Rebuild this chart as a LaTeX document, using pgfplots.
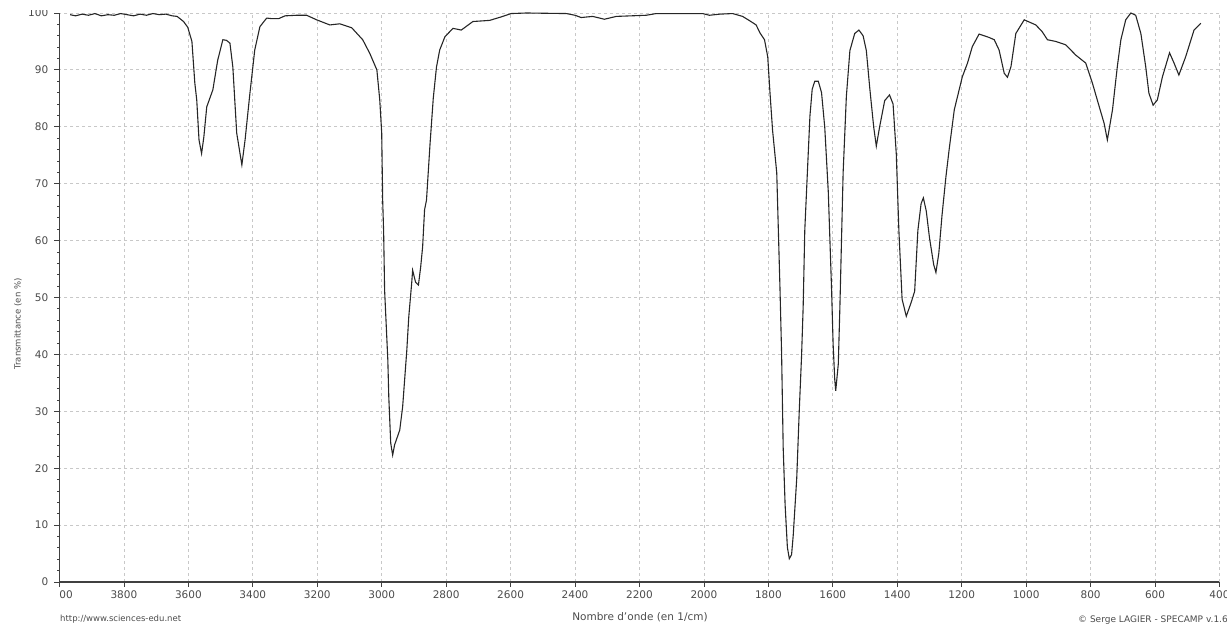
\documentclass[border=0pt]{standalone}
\usepackage{fontspec}
\setmainfont{DejaVu Sans}
\usepackage{pgfplots}
\pgfplotsset{compat=1.18}
\definecolor{gridc}{RGB}{200,200,200}
\definecolor{txt}{RGB}{75,75,75}
\begin{document}
\begin{tikzpicture}[x=1pt,y=1pt]
\useasboundingbox (-59.5,-46) rectangle (1167.5,582);
\clip (-59.5,-46) rectangle (1167.5,582);
\begin{axis}[
  at={(0,0)}, anchor=south west,
  scale only axis, width=1160pt, height=569pt,
  x dir=reverse, xmin=400, xmax=4000, ymin=0, ymax=100,
  xtick={400,600,...,4000}, ytick={0,10,...,100},
  minor y tick num=4,
  axis lines*=left,
  axis line style={black!75, line width=1.1pt},
  tick align=outside, major tick length=5pt, minor tick length=2pt,
  tick style={black!75, line width=0.8pt},
  grid=major,
  major grid style={gridc, line width=0.8pt, dash pattern=on 3pt off 3pt},
  /pgf/number format/assume math mode=true,
  /pgf/number format/set thousands separator={},
  ticklabel style={font=\fontsize{10.5}{12}\selectfont, text=txt, inner sep=0pt},
  xticklabel style={yshift=-4pt},
  yticklabel style={xshift=-6pt},
  clip=false,
]
\addplot[black!85, line width=1.1pt] table {
3967 99.7
3950 99.5
3930 99.8
3910 99.6
3890 99.9
3870 99.5
3850 99.7
3830 99.6
3810 99.9
3790 99.7
3770 99.5
3750 99.8
3730 99.6
3710 99.9
3690 99.7
3670 99.8
3650 99.5
3635 99.4
3626 99.0
3615 98.5
3602 97.5
3589 95.0
3580 87.7
3574 84.7
3567 77.7
3559 75.3
3552 78.2
3543 83.5
3524 86.5
3509 91.7
3493 95.3
3482 95.2
3471 94.7
3462 90.5
3450 78.9
3440 75.4
3434 73.3
3424 77.7
3409 85.9
3394 93.5
3378 97.6
3357 99.1
3340 99.0
3320 99.0
3300 99.5
3264 99.6
3233 99.6
3202 98.8
3161 97.9
3130 98.1
3093 97.4
3059 95.3
3037 92.9
3015 90.0
3006 84.7
3000 78.9
2997 67.1
2994 61.5
2991 51.3
2981 39.0
2978 32.5
2972 24.4
2966 22.3
2960 24.1
2944 26.7
2935 30.8
2922 40.8
2916 46.6
2907 52.5
2904 54.8
2895 52.7
2886 52.2
2879 55.4
2873 58.9
2867 65.4
2861 67.1
2850 77.0
2840 85.0
2830 90.5
2820 93.5
2804 95.8
2779 97.3
2753 97.0
2717 98.5
2665 98.7
2630 99.3
2598 99.9
2551 100.0
2427 99.9
2400 99.6
2381 99.2
2345 99.4
2309 98.9
2272 99.4
2179 99.6
2148 99.9
2076 99.9
2004 99.9
1983 99.6
1950 99.8
1911 99.9
1880 99.4
1857 98.6
1838 97.9
1826 96.5
1812 95.3
1802 92.3
1795 86.0
1787 79.4
1774 71.9
1764 51.7
1759 40.3
1754 23.6
1748 13.5
1741 6.1
1735 4.1
1728 4.8
1723 8.1
1712 18.2
1704 30.3
1697 39.7
1692 48.4
1687 61.8
1679 71.9
1671 81.9
1664 86.6
1656 88.0
1645 88.0
1635 86.0
1625 79.9
1614 68.5
1604 51.7
1599 41.7
1594 35.6
1591 33.6
1583 38.3
1578 48.4
1568 71.9
1558 85.3
1547 93.4
1532 96.4
1519 97.0
1506 96.0
1496 93.4
1485 86.6
1473 79.9
1465 76.6
1455 79.9
1439 84.6
1424 85.6
1413 84.0
1403 75.2
1395 61.8
1385 49.7
1372 46.7
1357 49.1
1346 51.1
1336 61.8
1326 66.5
1319 67.5
1310 65.2
1300 60.5
1287 55.8
1280 54.4
1271 57.8
1261 64.5
1249 71.2
1239 76.0
1223 83.0
1198 88.8
1182 91.2
1167 94.1
1146 96.3
1115 95.7
1099 95.3
1084 93.5
1068 89.4
1058 88.7
1047 90.6
1032 96.4
1006 98.8
970 97.9
950 96.7
934 95.3
908 95.0
877 94.4
846 92.6
815 91.2
794 87.6
773 83.5
758 80.6
748 77.7
732 83.0
717 90.6
706 95.3
691 98.8
675 100.0
660 99.6
644 96.4
629 90.6
619 85.9
606 83.8
593 84.7
577 88.8
555 93.0
541 91.2
526 89.1
505 92.3
479 97.0
458 98.2
};
\end{axis}
% the original screenshot hides the left half of the first tick label and the top of "100"
\fill[white] (-40,-5) rectangle (-0.8,-20);
\fill[white] (-40,572) rectangle (-3,582);
\node[text=txt, font=\fontsize{10.5}{12}\selectfont] at (580.5,-35.5) {Nombre d'onde (en 1/cm)};
\node[anchor=west, text=txt, font=\fontsize{8.5}{10}\selectfont, inner sep=0pt] at (0.5,-37) {http://www.sciences-edu.net};
\node[anchor=east, text=txt, font=\fontsize{9}{10}\selectfont, inner sep=0pt] at (1168.5,-38) {© Serge LAGIER - SPECAMP v.1.6};
\node[rotate=90, text=txt, font=\fontsize{8.5}{10}\selectfont] at (-41.5,258) {Transmittance (en \%)};
\end{tikzpicture}
\end{document}
